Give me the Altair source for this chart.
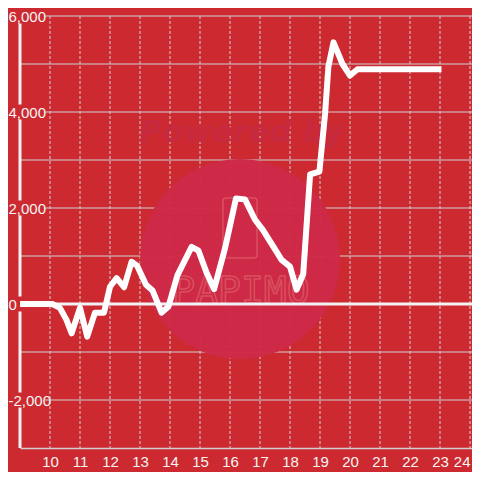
import altair as alt
import pandas as pd

# ---- data ----
hours = [9.0, 9.5, 10.0, 10.08, 10.33, 10.55, 10.72, 11.0, 11.24, 11.5, 11.8, 12.0, 12.22,
         12.47, 12.72, 12.9, 13.2, 13.42, 13.72, 13.95, 14.25, 14.72, 14.95, 15.22, 15.47,
         15.83, 16.2, 16.5, 16.83, 17.1, 17.44, 17.72, 18.0, 18.22, 18.44, 18.67,
         18.98, 19.17, 19.28, 19.45, 19.75, 20.0, 20.25, 21.0, 22.0, 23.05]
values = [0, 0, 0, 0, -80, -330, -610, -80, -680, -180, -180, 360, 540,
          350, 880, 800, 400, 280, -180, -50, 600, 1190, 1110, 650, 310,
          1150, 2200, 2180, 1760, 1540, 1200, 920, 780, 300, 620, 2700,
          2760, 3970, 4945, 5450, 5000, 4760, 4890, 4890, 4890, 4890]

y_labels = [-2000, 0, 2000, 4000, 6000]
grid_labeled = [-2000, 2000, 4000, 6000]
grid_unlabeled = [-1000, 1000, 3000, 5000]
x_labels = list(range(10, 25))

BG = "#cc2a30"
GRID = "#cfcfcf"
AXIS_WHITE = "#f2f2f2"
FONT = "Liberation Sans"

W, H = 452, 432
xs = alt.Scale(domain=[9, 9 + W / 30], nice=False, zero=False)
ys = alt.Scale(domain=[-3000, 6000], nice=False, zero=False)

xaxis = alt.Axis(values=x_labels, grid=False, ticks=False, domainColor=GRID,
                 domainWidth=1.5, labelColor="#f5f5f5", labelFontSize=15,
                 labelFont=FONT, labelPadding=6, labelFlush=5,
                 labelOverlap=False, labelBound=False, title=None)
yaxis = alt.Axis(values=y_labels, grid=False, ticks=False, domain=False,
                 labelExpr="datum.value < 0 ? '-' + format(-datum.value, ',d') : format(datum.value, ',d')",
                 labelColor="#f5f5f5", labelAlign="left",
                 labelFontSize=15, labelFont=FONT, labelPadding=12,
                 labelFlush=False, labelOverlap=False, title=None, zindex=1)

df = pd.DataFrame({"hour": hours, "value": values})

# watermark (decorative)
wm = pd.DataFrame({"k": [0]})
circle = alt.Chart(wm).mark_circle(size=40000, color="#cd2948", opacity=0.95).encode(
    x=alt.value(220), y=alt.value(243))
wm_text = alt.Chart(wm).mark_text(text="Powered by", font="DejaVu Sans", fontSize=31,
                                  fontStyle="italic", fontWeight="bold", color="#c7293f",
                                  align="center", baseline="middle").encode(
    x=alt.value(222), y=alt.value(117))
wm_text2 = alt.Chart(wm).mark_text(text="PAPIMO", font="DejaVu Sans Mono", fontSize=38,
                                   fillOpacity=0, stroke="#d9505f", strokeWidth=1.5,
                                   align="center", baseline="middle").encode(
    x=alt.value(221), y=alt.value(276))
wm_rect = alt.Chart(wm).mark_rect(fillOpacity=0, stroke="#d9505f", strokeWidth=1.5,
                                  cornerRadius=3).encode(
    x=alt.value(203), x2=alt.value(237), y=alt.value(182), y2=alt.value(242))

g1 = alt.Chart(pd.DataFrame({"g": grid_labeled})).mark_rule(color=GRID, strokeWidth=1).encode(
    y=alt.Y("g:Q", scale=ys, axis=yaxis), x=alt.value(25), x2=alt.value(W))
g2 = alt.Chart(pd.DataFrame({"g": grid_unlabeled})).mark_rule(color=GRID, strokeWidth=1).encode(
    y=alt.Y("g:Q", scale=ys, axis=yaxis), x=alt.value(0), x2=alt.value(W))
vgrid = alt.Chart(pd.DataFrame({"h": x_labels})).mark_rule(
    color=GRID, strokeWidth=1, strokeDash=[3, 2]).encode(
    x=alt.X("h:Q", scale=xs, axis=xaxis), y=alt.datum(6000, scale=ys, axis=yaxis),
    y2=alt.datum(-3000))

# y axis line, interrupted behind the labels
yline = alt.Chart(pd.DataFrame({"a": [6000], "b": [-3000]})).mark_rule(
    color=AXIS_WHITE, strokeWidth=3).encode(
    x=alt.value(0), y=alt.Y("a:Q", scale=ys, axis=yaxis), y2="b:Q")
gaps = alt.Chart(pd.DataFrame({"g": y_labels})).mark_tick(
    orient="vertical", size=15, thickness=6, color=BG, opacity=1).encode(
    x=alt.value(0), y=alt.Y("g:Q", scale=ys, axis=yaxis))

zero = alt.Chart(pd.DataFrame({"z": [0]})).mark_rule(color=AXIS_WHITE, strokeWidth=3).encode(
    y=alt.Y("z:Q", scale=ys, axis=yaxis), x=alt.value(0), x2=alt.value(W))

line = alt.Chart(df).mark_line(color="white", strokeWidth=6, interpolate="linear",
                               strokeCap="butt", strokeJoin="round").encode(
    x=alt.X("hour:Q", scale=xs, axis=xaxis),
    y=alt.Y("value:Q", scale=ys, axis=yaxis),
)

chart = alt.layer(g1, g2, vgrid, circle, wm_text, wm_text2, wm_rect, yline, gaps, zero,
                  line).properties(
    width=W, height=H, background=BG,
    padding={"left": 12, "top": 8, "right": 0, "bottom": 24},
    autosize=alt.AutoSizeParams(type="none"),
).configure_view(stroke=None)

chart.save("out.html", embed_options={"renderer": "svg", "actions": False})
